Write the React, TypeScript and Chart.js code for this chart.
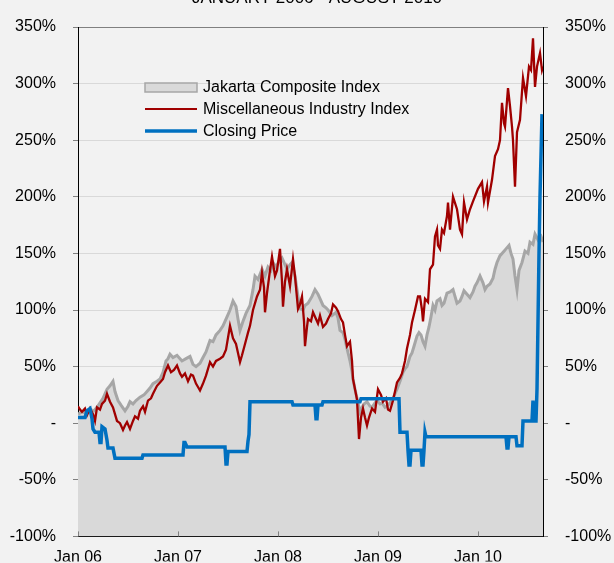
import React, { useEffect, useRef } from 'react';
import { Chart, registerables } from 'chart.js';

Chart.register(...registerables);

const TITLE = 'JANUARY 2006 - AUGUST 2010';
const SERIES_LABELS = ['Jakarta Composite Index', 'Miscellaneous Industry Index', 'Closing Price'];
const X_TICK_MONTHS = [0, 12, 24, 36, 48];
const X_TICK_LABELS = ['Jan 06', 'Jan 07', 'Jan 08', 'Jan 09', 'Jan 10'];
const X_MAX_MONTH = 55.8;
const Y_MIN = -100;
const Y_MAX = 350;
const Y_STEP = 50;

// months since Jan 2006
const jciMonths = [
  0, 0.48, 0.96, 1.44, 1.92, 2.28, 2.64, 3.0, 3.48, 3.84,
  4.2, 4.44, 4.8, 5.16, 5.64, 6.0, 6.24, 6.6, 6.96, 7.44,
  7.92, 8.28, 8.64, 9.0, 9.48, 9.84, 10.2, 10.56, 10.8, 11.04,
  11.4, 11.88, 12.24, 12.48, 12.96, 13.44, 13.8, 14.16, 14.64, 15.0,
  15.36, 15.84, 16.2, 16.56, 17.04, 17.4, 17.88, 18.24, 18.6, 18.96,
  19.2, 19.44, 19.8, 20.16, 20.64, 21.0, 21.24, 21.6, 22.08, 22.44,
  22.8, 23.16, 23.4, 23.76, 24.12, 24.48, 24.84, 25.08, 25.44, 25.68,
  26.04, 26.4, 26.64, 27.0, 27.24, 27.6, 28.08, 28.44, 28.8, 29.04,
  29.4, 29.76, 30.0, 30.48, 30.96, 31.2, 31.44, 31.8, 32.04, 32.28,
  32.64, 32.88, 33.0, 33.24, 33.48, 33.84, 34.08, 34.32, 34.68, 35.04,
  35.28, 35.64, 35.88, 36.24, 36.48, 36.84, 37.08, 37.44, 37.68, 38.04,
  38.28, 38.64, 39.0, 39.24, 39.48, 39.84, 40.08, 40.32, 40.68, 40.92,
  41.16, 41.4, 41.64, 41.88, 42.12, 42.36, 42.6, 42.84, 43.08, 43.44,
  43.68, 43.92, 44.28, 44.64, 45.0, 45.24, 45.48, 45.84, 46.08, 46.32,
  46.68, 47.04, 47.4, 47.64, 47.88, 48.24, 48.6, 48.84, 49.08, 49.44,
  49.8, 50.04, 50.28, 50.64, 50.88, 51.12, 51.36, 51.72, 51.96, 52.2,
  52.44, 52.68, 52.92, 53.28, 53.64, 54.0, 54.24, 54.6, 54.84, 55.2,
  55.56, 55.8,
];
const jciValues = [
  8, 10, 9, 12, 11, 14, 18, 22, 30, 33,
  37, 28, 20, 16, 11, 15, 19, 17, 20, 23,
  25, 28, 31, 35, 37, 39, 45, 55, 57, 61,
  58, 60, 57, 55, 57, 59, 52, 50, 53, 58,
  63, 73, 72, 78, 82, 86, 94, 100, 108, 103,
  92, 82, 90, 97, 104, 118, 130, 127, 136, 130,
  138, 135, 142, 138, 143, 146, 140, 136, 140, 142,
  130, 112, 101, 100, 104, 106, 112, 118, 114, 110,
  104, 102, 100, 95, 98, 93, 82, 80, 74, 66,
  55, 46, 39, 30, 22, 10, 14, 17, 19, 15,
  14, 18, 20, 17, 18, 14, 15, 18, 20, 26,
  30, 37, 45, 48, 50, 59, 62, 68, 77, 80,
  78, 72, 68, 78, 85, 94, 104, 100, 108, 110,
  104, 106, 115, 116, 118, 112, 106, 108, 112, 117,
  114, 111, 116, 121, 124, 130, 124, 118, 121, 123,
  128, 136, 142, 148, 150, 152, 154, 157, 150, 145,
  130, 118, 135, 142, 152, 150, 160, 158, 167, 162,
  165, 160,
];

const miscMonths = [
  0, 0.24, 0.48, 0.84, 1.08, 1.44, 1.8, 2.04, 2.28, 2.64,
  2.88, 3.24, 3.48, 3.84, 4.2, 4.68, 5.04, 5.4, 5.64, 5.88,
  6.24, 6.6, 6.84, 7.2, 7.44, 7.8, 8.04, 8.4, 8.76, 9.0,
  9.48, 9.84, 10.2, 10.44, 10.8, 11.16, 11.52, 11.88, 12.24, 12.48,
  12.84, 13.2, 13.56, 13.8, 14.16, 14.4, 14.64, 15.0, 15.36, 15.84,
  16.2, 16.56, 17.04, 17.4, 17.76, 18.24, 18.6, 18.96, 19.2, 19.44,
  19.68, 20.04, 20.4, 20.64, 21.0, 21.48, 21.84, 22.08, 22.32, 22.44,
  22.68, 23.04, 23.28, 23.64, 23.88, 24.24, 24.48, 24.6, 24.84, 25.08,
  25.44, 25.8, 26.04, 26.4, 26.64, 26.88, 27.12, 27.24, 27.48, 27.6,
  27.96, 28.2, 28.56, 28.8, 29.04, 29.4, 29.76, 30.0, 30.36, 30.6,
  30.96, 31.2, 31.56, 31.8, 32.04, 32.28, 32.64, 32.88, 33.0, 33.24,
  33.48, 33.72, 33.96, 34.2, 34.44, 34.68, 34.92, 35.28, 35.64, 36.0,
  36.36, 36.6, 36.96, 37.2, 37.44, 37.8, 38.04, 38.28, 38.64, 38.88,
  39.24, 39.48, 39.84, 40.08, 40.44, 40.8, 41.04, 41.28, 41.4, 41.64,
  42.0, 42.24, 42.6, 42.84, 43.08, 43.2, 43.44, 43.68, 43.92, 44.28,
  44.4, 44.64, 45.0, 45.48, 45.84, 46.08, 46.32, 46.68, 47.04, 47.4,
  48.0, 48.48, 48.72, 49.08, 49.2, 49.68, 50.04, 50.4,
  50.64, 50.88, 51.12, 51.24, 51.6, 51.84, 52.08, 52.2, 52.44, 52.68,
  53.04, 53.4, 53.76, 54.12, 54.36, 54.6, 54.84, 55.08, 55.44, 55.68,
  55.8,
];
const miscValues = [
  15, 12, 10, 13, 7, 13, 8, 2, 14, 12,
  17, 20, 26, 19, 14, 2, 0, -6, -2, 1,
  -5, 2, 6, 4, 11, 15, 10, 20, 22, 26,
  33, 36, 39, 45, 51, 45, 47, 51, 44, 41,
  44, 37, 43, 42, 35, 32, 29, 35, 42, 54,
  50, 55, 57, 59, 65, 86, 75, 70, 62, 54,
  60, 70, 80, 86, 100, 112, 118, 133, 120, 98,
  115, 135, 147, 130, 135, 154, 125, 103, 125, 136,
  121, 145, 130, 101, 105, 112, 90, 68, 85, 92,
  90, 98, 92, 88, 95, 85, 88, 92, 97, 105,
  102, 99, 92, 89, 78, 68, 72, 55, 39, 30,
  21, -14, 5, 13, 5, -2, 5, 13, 10, 30,
  25, 19, 22, 12, 11, 20, 28, 36, 40, 44,
  55, 66, 78, 89, 100, 112, 112, 100, 90, 110,
  107, 136, 140, 165, 171, 157, 154, 171, 168, 183,
  195, 171, 200, 189, 171, 167, 195, 180, 189, 196,
  207, 213, 196, 209, 195, 215, 236, 242,
  250, 283, 265, 262, 296, 280, 262, 250, 209, 257,
  268, 305, 289, 315, 312, 340, 297, 315, 327, 312,
  315,
];

const priceMonths = [
  0, 0.84, 1.08, 1.44, 1.68, 1.8, 2.04, 2.52, 2.64, 2.76,
  2.88, 3.24, 3.48, 3.6, 4.2, 4.44, 7.68, 7.8, 12.6, 12.72,
  12.84, 13.08, 17.64, 17.76, 17.88, 18.0, 20.28, 20.4, 20.52, 20.64,
  25.68, 25.8, 28.44, 28.56, 28.68, 28.8, 29.28, 29.4, 33.84, 33.96,
  38.52, 38.64, 39.48, 39.6, 39.72, 39.84, 39.96, 41.16, 41.28, 41.4,
  41.52, 41.64, 41.76, 51.36, 51.48, 51.6, 51.72, 52.56, 52.68, 53.28,
  53.4, 54.48, 54.6, 54.72, 54.96, 55.08, 55.32, 55.44, 55.68,
];
const priceValues = [
  5, 5, 11, 13, 4, -5, -8, -8, -17, -17,
  -3, -5, -15, -22, -22, -31, -31, -28, -28, -17,
  -17, -21, -21, -36, -36, -25, -25, -16, -10, 19,
  19, 16, 16, 4, 4, 16, 16, 19, 19, 21.6,
  21.6, -8, -8, -24, -37, -37, -24, -24, -37, -37,
  -24, -8, -12, -12, -22, -22, -12, -12, -20, -20,
  2, 2, 20, 2, 2, 30, 150, 200, 273,
];

const FONT = "'Liberation Sans', Arial, sans-serif";
const BG = '#f2f2f2';
const JCI_LINE = '#a6a6a6';
const JCI_FILL = '#d9d9d9';
const MISC_COLOR = '#a00000';
const PRICE_COLOR = '#0070c0';

const toPoints = (xs: number[], ys: number[]) => xs.map((x, i) => ({ x, y: ys[i] }));

const bgPlugin = {
  id: 'bgAndTitle',
  beforeDraw(chart: any) {
    const { ctx, width, height } = chart;
    ctx.save();
    ctx.fillStyle = BG;
    ctx.fillRect(0, 0, width, height);
    ctx.fillStyle = '#000';
    ctx.font = `17px ${FONT}`;
    ctx.textAlign = 'center';
    ctx.textBaseline = 'alphabetic';
    ctx.fillText(TITLE, width / 2 + 10, 3);
    ctx.restore();
  },
};

const decorPlugin = {
  id: 'decor',
  afterDraw(chart: any) {
    const { ctx, chartArea } = chart;
    const xs = chart.scales.x;
    ctx.save();
    // inward x tick marks
    ctx.strokeStyle = '#808080';
    ctx.lineWidth = 1;
    X_TICK_MONTHS.forEach((m) => {
      const px = Math.round(xs.getPixelForValue(m)) + 0.5;
      ctx.beginPath();
      ctx.moveTo(px, chartArea.bottom);
      ctx.lineTo(px, chartArea.bottom - 5);
      ctx.stroke();
    });
    // legend
    const x0 = chartArea.left + 67;
    const x1 = chartArea.left + 119;
    const tx = chartArea.left + 125;
    const y0 = chartArea.top + 60;
    const gap = 22;
    ctx.font = `16px ${FONT}`;
    ctx.textAlign = 'left';
    ctx.textBaseline = 'middle';
    ctx.fillStyle = JCI_FILL;
    ctx.fillRect(x0, y0 - 4, x1 - x0, 9);
    ctx.strokeStyle = JCI_LINE;
    ctx.lineWidth = 1.5;
    ctx.strokeRect(x0, y0 - 4, x1 - x0, 9);
    ctx.fillStyle = '#000';
    ctx.fillText(SERIES_LABELS[0], tx, y0 + 1);
    ctx.strokeStyle = MISC_COLOR;
    ctx.lineWidth = 2;
    ctx.beginPath();
    ctx.moveTo(x0, y0 + gap);
    ctx.lineTo(x1, y0 + gap);
    ctx.stroke();
    ctx.fillText(SERIES_LABELS[1], tx, y0 + gap + 1);
    ctx.strokeStyle = PRICE_COLOR;
    ctx.lineWidth = 3.5;
    ctx.beginPath();
    ctx.moveTo(x0, y0 + 2 * gap);
    ctx.lineTo(x1, y0 + 2 * gap);
    ctx.stroke();
    ctx.fillText(SERIES_LABELS[2], tx, y0 + 2 * gap + 1);
    ctx.restore();
  },
};

const pctLabel = (v: any) => (Number(v) === 0 ? '-' : `${v}%`);

export default function App() {
  const ref = useRef<HTMLCanvasElement | null>(null);

  useEffect(() => {
    if (!ref.current) return;
    const chart = new Chart(ref.current, {
      type: 'line',
      data: {
        datasets: [
          {
            label: SERIES_LABELS[0],
            data: toPoints(jciMonths, jciValues),
            borderColor: JCI_LINE,
            backgroundColor: JCI_FILL,
            borderWidth: 3,
            fill: 'start',
            pointRadius: 0,
            tension: 0,
            order: 3,
          },
          {
            label: SERIES_LABELS[1],
            data: toPoints(miscMonths, miscValues),
            borderColor: MISC_COLOR,
            borderWidth: 2.3,
            fill: false,
            pointRadius: 0,
            tension: 0,
            order: 2,
          },
          {
            label: SERIES_LABELS[2],
            data: toPoints(priceMonths, priceValues),
            borderColor: PRICE_COLOR,
            borderWidth: 3.5,
            fill: false,
            pointRadius: 0,
            tension: 0,
            order: 1,
          },
        ],
      },
      options: {
        responsive: false,
        animation: false,
        devicePixelRatio: 1,
        layout: { padding: { top: 27, left: 0, right: 0, bottom: 0 } },
        plugins: {
          legend: { display: false },
          tooltip: { enabled: false },
          title: { display: false },
        },
        scales: {
          x: {
            type: 'linear',
            min: 0,
            max: X_MAX_MONTH,
            afterBuildTicks: (scale: any) => {
              scale.ticks = X_TICK_MONTHS.map((v) => ({ value: v }));
            },
            afterFit: (scale: any) => {
              scale.height = 25;
            },
            ticks: {
              autoSkip: false,
              maxRotation: 0,
              padding: 12,
              color: '#000',
              font: { family: FONT, size: 16 },
              callback: (v: any) => {
                const i = X_TICK_MONTHS.indexOf(Number(v));
                return i >= 0 ? X_TICK_LABELS[i] : '';
              },
            },
            grid: { drawOnChartArea: false, drawTicks: false },
            border: { color: '#000', width: 1 },
          },
          y: {
            position: 'left',
            min: Y_MIN,
            max: Y_MAX,
            afterFit: (scale: any) => {
              scale.width = 78;
            },
            ticks: {
              stepSize: Y_STEP,
              padding: 17,
              color: '#000',
              font: { family: FONT, size: 16 },
              callback: pctLabel,
            },
            grid: {
              color: (c: any) => (c.tick && c.tick.value === Y_MAX ? '#808080' : '#d9d9d9'),
              tickColor: '#808080',
              tickLength: 5,
            },
            border: { color: '#000', width: 1 },
          },
          y2: {
            position: 'right',
            min: Y_MIN,
            max: Y_MAX,
            afterFit: (scale: any) => {
              scale.width = 71;
            },
            ticks: {
              stepSize: Y_STEP,
              padding: 17,
              color: '#000',
              font: { family: FONT, size: 16 },
              callback: pctLabel,
            },
            grid: { drawOnChartArea: false, tickColor: '#808080', tickLength: 5 },
            border: { color: '#000', width: 1 },
          },
        },
      },
      plugins: [bgPlugin, decorPlugin],
    } as any);
    return () => chart.destroy();
  }, []);

  return (
    <div style={{ position: 'fixed', left: 0, top: 0, width: 614, height: 563, background: BG }}>
      <canvas ref={ref} width={614} height={563} />
    </div>
  );
}
